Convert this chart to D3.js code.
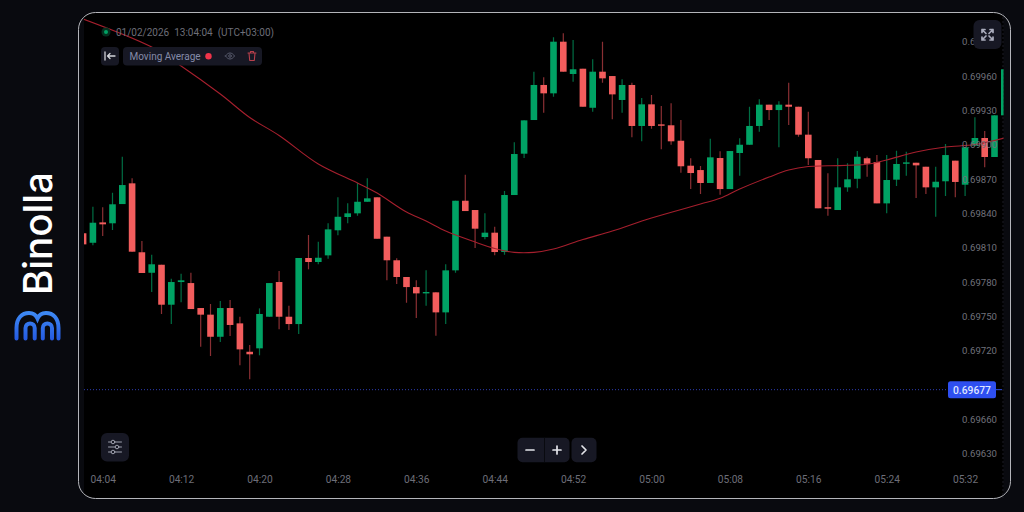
<!DOCTYPE html>
<html>
<head>
<meta charset="utf-8">
<script src="https://cdn.jsdelivr.net/npm/d3@7/dist/d3.min.js"></script>
<style>
    html, body { margin: 0; padding: 0; background: #090a0f; overflow: hidden; }
    svg { display: block; }
    text { font-family: Roboto, sans-serif; }
</style>
</head>
<body>
<div id="chart"></div>
<script>
var candleTimes = ["04:02","04:03","04:04","04:05","04:06","04:07","04:08","04:09","04:10","04:11",
    "04:12","04:13","04:14","04:15","04:16","04:17","04:18","04:19","04:20","04:21",
    "04:22","04:23","04:24","04:25","04:26","04:27","04:28","04:29","04:30","04:31",
    "04:32","04:33","04:34","04:35","04:36","04:37","04:38","04:39","04:40","04:41",
    "04:42","04:43","04:44","04:45","04:46","04:47","04:48","04:49","04:50","04:51",
    "04:52","04:53","04:54","04:55","04:56","04:57","04:58","04:59","05:00","05:01",
    "05:02","05:03","05:04","05:05","05:06","05:07","05:08","05:09","05:10","05:11",
    "05:12","05:13","05:14","05:15","05:16","05:17","05:18","05:19","05:20","05:21",
    "05:22","05:23","05:24","05:25","05:26","05:27","05:28","05:29","05:30","05:31",
    "05:32","05:33","05:34","05:35","05:36"];

var openPrices = [.698227,.698144,.698322,.698314,.698482,.698663,.698061,.697882,.697952,.697603,
    .697801,.697792,.697574,.697516,.697323,.697574,.697440,.697192,.697222,.697498,
    .697801,.697498,.697434,.698011,.697976,.698034,.698253,.698369,.698401,.698502,
    .698541,.698197,.697991,.697845,.697757,.697702,.697711,.697536,.697903,.698511,
    .698430,.698194,.698232,.698063,.698561,.698922,.699216,.699522,.699449,.699900,
    .699618,.699664,.699323,.699638,.699600,.699391,.699522,.699164,.699353,.699178,
    .699170,.699035,.698817,.698779,.698666,.698884,.698613,.698928,.699000,.699164,
    .699350,.699303,.699350,.699332,.699088,.698867,.698454,.698430,.698628,.698703,
    .698882,.698849,.698488,.698695,.698834,.698843,.698808,.698628,.698681,.698861,
    .698651,.698992,.699059,.698893,.699257];

var highPrices = [.698227,.698459,.698454,.698581,.698895,.698707,.698159,.698040,.697952,.697830,
    .697874,.697882,.697574,.697609,.697635,.697644,.697498,.697251,.697571,.697792,
    .697897,.697594,.698011,.698212,.698153,.698314,.698541,.698488,.698668,.698707,
    .698541,.698197,.698008,.697845,.697816,.697903,.697711,.697956,.698511,.698738,
    .698430,.698401,.698284,.698596,.699021,.699213,.699638,.699589,.699938,.699973,
    .699915,.699664,.699746,.699900,.699600,.699571,.699542,.699408,.699434,.699338,
    .699362,.699216,.698882,.698814,.699053,.698943,.698945,.699056,.699332,.699397,
    .699350,.699379,.699542,.699332,.699288,.698867,.698751,.698882,.698838,.698945,
    .698895,.698910,.698910,.698948,.698939,.698843,.698808,.698808,.699006,.698861,
    .698978,.699240,.699120,.699257,.699659];

var lowPrices = [.698130,.698122,.698203,.698255,.698482,.698066,.697880,.697714,.697522,.697434,
    .697624,.697565,.697236,.697155,.697277,.697329,.697074,.696951,.697161,.697498,
    .697388,.697382,.697347,.697912,.697956,.698005,.698209,.698314,.698380,.698502,
    .698179,.697816,.697784,.697620,.697487,.697594,.697332,.697434,.697882,.698421,
    .698098,.698174,.698034,.698040,.698561,.698884,.699216,.699280,.699420,.699638,
    .699551,.699332,.699288,.699542,.699222,.699280,.699065,.699030,.699140,.698960,
    .699000,.698756,.698613,.698570,.698666,.698564,.698613,.698730,.699000,.699114,
    .699216,.698978,.699172,.699070,.698823,.698445,.698380,.698430,.698590,.698620,
    .698721,.698488,.698401,.698640,.698730,.698535,.698570,.698371,.698552,.698541,
    .698552,.698992,.698803,.698893,.699257];

var closePrices = [.698130,.698319,.698305,.698480,.698648,.698066,.697880,.697956,.697603,.697801,
    .697816,.697565,.697516,.697323,.697574,.697426,.697213,.697170,.697522,.697792,
    .697498,.697434,.698011,.697976,.698013,.698261,.698371,.698401,.698502,.698532,
    .698179,.697991,.697845,.697757,.697702,.697714,.697536,.697903,.698511,.698421,
    .698267,.698232,.698063,.698561,.698919,.699213,.699522,.699449,.699900,.699638,
    .699659,.699332,.699638,.699580,.699440,.699522,.699164,.699353,.699164,.699170,
    .699030,.698812,.698753,.698666,.698890,.698613,.698945,.699000,.699164,.699350,
    .699303,.699350,.699332,.699088,.698882,.698445,.698445,.698628,.698698,.698895,
    .698834,.698488,.698692,.698832,.698846,.698820,.698628,.698677,.698910,.698675,
    .698978,.699059,.698893,.699257,.699659];

// moving average
var maTimes = ["04:02","04:09","04:12","04:16","04:19","04:22","04:26","04:30","04:32","04:35","04:37",
    "04:39","04:42","04:44","04:46","04:48","04:50","04:53","04:56","05:00","05:05","05:07",
    "05:09","05:12","05:14","05:16","05:18","05:22","05:24","05:27","05:30","05:33","05:36"];
var maValues = [.700098,.699853,.699688,.699443,.699238,.699081,.698832,.698666,.698578,.698412,.698334,
    .698246,.698150,.698094,.698060,.698060,.698089,.698172,.698246,.698360,.698482,.698532,
    .698613,.698718,.698779,.698810,.698816,.698829,.698867,.698936,.698980,.699002,.699059];

var timeTicks = ["04:04","04:12","04:20","04:28","04:36","04:44","04:52","05:00","05:08","05:16","05:24","05:32"];
var priceTicks = [.6999,.6996,.6993,.6990,.6987,.6984,.6981,.6978,.6975,.6972,.6966,.6963];

var currentLevel = .696861;
var currentLabel = "0.69677";
var dateLabel = "01/02/2026  13:04:04  (UTC+03:00)";
var maLabel = "Moving Average";

var width = 1024, height = 512;
var parseTime = d3.timeParse("%H:%M");
var formatTime = d3.timeFormat("%H:%M");

var svg = d3.select("#chart").append("svg")
    .attr("width", width)
    .attr("height", height);

var defs = svg.append("defs");
defs.append("clipPath").attr("id", "panelClip").append("rect")
    .attr("x", 78.5).attr("y", 12.5).attr("width", 932).attr("height", 486).attr("rx", 17);
defs.append("clipPath").attr("id", "plotClip").append("rect")
    .attr("x", 84).attr("y", 13).attr("width", 919.5).attr("height", 485);
var logoGrad = defs.append("linearGradient").attr("id", "logoGrad")
    .attr("gradientUnits", "userSpaceOnUse")
    .attr("x1", 0).attr("y1", 311).attr("x2", 0).attr("y2", 341);
logoGrad.append("stop").attr("offset", "0%").attr("stop-color", "#3f8cf5");
logoGrad.append("stop").attr("offset", "100%").attr("stop-color", "#2458e0");

// scales
var x = d3.scaleTime()
    .domain([parseTime("04:04"), parseTime("05:36")])
    .range([102.7, 1004.3]);
var y = d3.scaleLinear()
    .domain([.6963, .6999])
    .range([453.9, 41.7]);

// logo on the left
svg.append("text")
    .attr("transform", "translate(51.5,295) rotate(-90)")
    .attr("fill", "#ffffff")
    .style("font-family", "Inter")
    .style("font-size", "40px")
    .style("font-weight", 500)
    .attr("textLength", 123)
    .attr("lengthAdjust", "spacingAndGlyphs")
    .text("Binolla");

var logo = svg.append("g")
    .attr("fill", "none")
    .attr("stroke", "url(#logoGrad)")
    .attr("stroke-width", 4)
    .attr("stroke-linecap", "round");
logo.append("path").attr("d", "M16.5 338.5V328C16.5 318 22 313 29 313C33 313 36 315 37.5 318.5C39 315 42 313 46 313C53 313 58.5 318 58.5 328V338.5");
logo.append("path").attr("d", "M25.5 338.5V328a4.6 4.6 0 0 1 9.2 0V338.5");
logo.append("path").attr("d", "M42.8 338.5V328a4.6 4.6 0 0 1 9.2 0V338.5");

// panel
svg.append("g").attr("clip-path", "url(#panelClip)").append("rect")
    .attr("x", 84).attr("y", 12).attr("width", 919.5).attr("height", 488)
    .attr("fill", "#000000");
svg.append("rect")
    .attr("x", 78.5).attr("y", 12.5).attr("width", 932).attr("height", 486).attr("rx", 17)
    .attr("fill", "none")
    .attr("stroke", "#b4b5ba")
    .attr("stroke-width", 1);
svg.append("line")
    .attr("x1", 1003).attr("x2", 1003).attr("y1", 13).attr("y2", 498)
    .attr("stroke", "#1c1d26")
    .attr("stroke-dasharray", "2,2");

var plot = svg.append("g").attr("clip-path", "url(#plotClip)");

// current price line
plot.append("line")
    .attr("x1", 84).attr("x2", 948)
    .attr("y1", y(currentLevel)).attr("y2", y(currentLevel))
    .attr("stroke", "#2d3cb0")
    .attr("stroke-dasharray", "1,2");
plot.append("line")
    .attr("x1", 996).attr("x2", 1002)
    .attr("y1", y(currentLevel)).attr("y2", y(currentLevel))
    .attr("stroke", "#2f4fe8");

var candles = d3.range(candleTimes.length).map(function (i) {
    return {
        time: parseTime(candleTimes[i]),
        open: openPrices[i],
        high: highPrices[i],
        low: lowPrices[i],
        close: closePrices[i]
    };
});

// wicks
plot.selectAll(".wick")
    .data(candles)
    .enter().append("line")
    .attr("class", "wick")
    .attr("x1", function (d) { return x(d.time); })
    .attr("x2", function (d) { return x(d.time); })
    .attr("y1", function (d) { return y(d.high); })
    .attr("y2", function (d) { return y(d.low); })
    .attr("stroke-width", 1.2)
    .attr("stroke", function (d) { return d.close >= d.open ? "#006e44" : "#8a2f33"; });

// bodies
var bodyWidth = 6.6;
plot.selectAll(".body")
    .data(candles)
    .enter().append("rect")
    .attr("class", "body")
    .attr("x", function (d) { return x(d.time) - bodyWidth / 2; })
    .attr("width", bodyWidth)
    .attr("y", function (d) { return y(Math.max(d.open, d.close)); })
    .attr("height", function (d) { return Math.max(1.4, Math.abs(y(d.open) - y(d.close))); })
    .attr("fill", function (d) { return d.close >= d.open ? "#00a264" : "#f25d5d"; });

// moving average
var maLine = d3.line()
    .x(function (d, i) { return x(parseTime(maTimes[i])); })
    .y(function (d) { return y(d); })
    .curve(d3.curveCatmullRom.alpha(0.5));

plot.append("path")
    .attr("d", maLine(maValues))
    .attr("fill", "none")
    .attr("stroke", "#a51f2d")
    .attr("stroke-width", 1.1);

// axes
var yAxis = svg.append("g")
    .attr("transform", "translate(997,0)")
    .call(d3.axisLeft(y).tickValues(priceTicks).tickSize(0).tickPadding(0).tickFormat(d3.format(".5f")));
yAxis.select(".domain").remove();
yAxis.selectAll("text")
    .attr("fill", "#70717b")
    .style("font-family", "Roboto")
    .style("font-size", "9.6px");

var xAxis = svg.append("g")
    .attr("transform", "translate(0,476)")
    .call(d3.axisBottom(x).tickValues(timeTicks.map(parseTime)).tickSize(0).tickPadding(0).tickFormat(formatTime));
xAxis.select(".domain").remove();
xAxis.selectAll("text")
    .attr("fill", "#6d6e78")
    .style("font-family", "Roboto")
    .style("font-size", "10.2px");

// current price badge
svg.append("rect")
    .attr("x", 948).attr("y", 381.2).attr("width", 48).attr("height", 17).attr("rx", 2.5)
    .attr("fill", "#2e4ff0");
svg.append("text")
    .attr("x", 972).attr("y", 393.5)
    .attr("text-anchor", "middle")
    .attr("fill", "#dfe5ff")
    .style("font-size", "10.3px")
    .style("font-weight", 500)
    .text(currentLabel);

// top legend
svg.append("circle").attr("cx", 106).attr("cy", 32).attr("r", 4.5).attr("fill", "#04301f");
svg.append("circle").attr("cx", 106).attr("cy", 32).attr("r", 2).attr("fill", "#00a264");
svg.append("text")
    .attr("x", 116).attr("y", 35.5)
    .attr("fill", "#6d6e78")
    .style("font-size", "10px")
    .style("white-space", "pre")
    .attr("xml:space", "preserve")
    .text(dateLabel);

var buttonFill = "#171824";
function roundRect(px, py, w, h, r) {
    return svg.append("rect")
        .attr("x", px).attr("y", py).attr("width", w).attr("height", h).attr("rx", r)
        .attr("fill", buttonFill);
}
function icon(stroke, sw) {
    return svg.append("g")
        .attr("fill", "none")
        .attr("stroke", stroke)
        .attr("stroke-width", sw)
        .attr("stroke-linecap", "round")
        .attr("stroke-linejoin", "round");
}

roundRect(101, 47, 18, 18.5, 4);
icon("#d5d6dc", 1.3).append("path").attr("d", "M105 52V60M115 56H107.5M110 53.5L107.5 56L110 58.5");

roundRect(123, 47, 139, 18.5, 4);
svg.append("text")
    .attr("x", 129.5).attr("y", 59.5)
    .attr("fill", "#858ba8")
    .style("font-size", "10px")
    .text(maLabel);
svg.append("circle").attr("cx", 208.5).attr("cy", 56.2).attr("r", 3.2).attr("fill", "#f0344a");
var eye = icon("#575a6c", 1);
eye.append("path").attr("d", "M225.5 56C227 53.8 228.5 53 230 53C231.5 53 233 53.8 234.5 56C233 58.2 231.5 59 230 59C228.5 59 227 58.2 225.5 56Z");
eye.append("circle").attr("cx", 230).attr("cy", 56).attr("r", 1.3);
icon("#b8404c", 1.1).append("path").attr("d", "M248 53H256M250.5 53V51.5H253.5V53M249 53L249.7 60.5H254.3L255 53");

// expand button
roundRect(973.5, 20, 28, 29, 6);
icon("#a9abbb", 1.7).append("path")
    .attr("d", "M982 29.5H985M982 29.5V32.5M982 29.5L986 33.5M993 29.5H990M993 29.5V32.5M993 29.5L989 33.5M982 40H985M982 40V37M982 40L986 36M993 40H990M993 40V37M993 40L989 36");

// settings button
roundRect(101, 433, 28, 28.5, 6);
var sliders = icon("#9ea0ad", 1);
sliders.append("path").attr("d", "M108.5 442H121.5M108.5 447H121.5M108.5 452H121.5");
sliders.append("circle").attr("cx", 113).attr("cy", 442).attr("r", 1.8).attr("fill", buttonFill);
sliders.append("circle").attr("cx", 117).attr("cy", 447).attr("r", 1.8).attr("fill", buttonFill);
sliders.append("circle").attr("cx", 113).attr("cy", 452).attr("r", 1.8).attr("fill", buttonFill);

// zoom buttons
roundRect(517.5, 437.7, 52, 24.6, 5);
roundRect(571.5, 437.7, 25, 24.6, 5);
svg.append("line").attr("x1", 544.5).attr("x2", 544.5).attr("y1", 437.7).attr("y2", 462.3).attr("stroke", "#090a0f");
icon("#e4e5ea", 1.7).append("path").attr("d", "M526 450H534M553 450H561M557 446V454M582 446L586 450L582 454");
</script>
</body>
</html>
